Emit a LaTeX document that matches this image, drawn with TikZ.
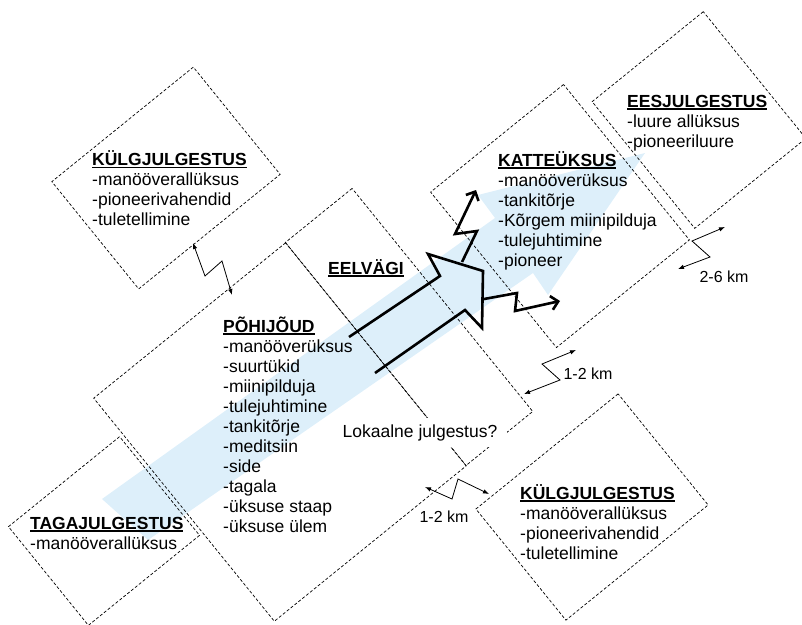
\documentclass[tikz,border=0pt]{standalone}
\usepackage{fontspec}
\setmainfont{Liberation Sans}
\usetikzlibrary{arrows.meta}
\definecolor{helesinine}{RGB}{221,239,250}
\newcommand{\pealkiri}[1]{\setbox0\hbox{\textbf{#1}}\rlap{\rule[-2.6pt]{\wd0}{1.4pt}}\box0}

\begin{document}
\begin{tikzpicture}[x=1pt,y=-1pt]
	% Stiilid
	\tikzstyle{kast}=[draw,densely dashed,line width=0.7pt,rectangle,inner sep=0pt,rotate=39]
	\tikzstyle{tekst}=[anchor=base west,align=left,inner sep=0pt,font=\fontsize{17.5}{20}\selectfont]
	\tikzstyle{vahemaa}=[{Latex[length=6pt,width=4.5pt]}-{Latex[length=6pt,width=4.5pt]},line width=0.8pt]
	\tikzstyle{suund}=[-{Straight Barb[length=7pt,width=14pt]},line width=2.6pt]
	\tikzstyle{km}=[inner sep=1pt,font=\fontsize{16}{18}\selectfont]
	% Reavahe (viimase rea alusjoon)
	\def\Rida{20}
	\useasboundingbox (0,0) rectangle (802,624);
	% Liikumise suund (taust)
	\fill[helesinine] (102,499) -- (495,218) -- (478,195) -- (645,153) -- (548,295) -- (533,273) -- (148,540) -- cycle;
	% Kastid
	\node[kast,minimum width=182pt,minimum height=138pt] (kylgA) at (166,178) {};
	\node[kast,minimum width=247pt,minimum height=287pt] (pohijoud) at (280,432) {};
	\node[kast,minimum width=86pt,minimum height=287pt] (eelvagi) at (409,327) {};
	\node[kast,minimum width=171pt,minimum height=200pt] (katte) at (560,216) {};
	\node[kast,minimum width=143pt,minimum height=163pt] (ees) at (699,120) {};
	\node[kast,minimum width=143pt,minimum height=127pt] (taga) at (104,531) {};
	\node[kast,minimum width=183pt,minimum height=143pt] (kylgB) at (592,507) {};
	% Tekstid
	\node[tekst] (kylgAtekst) at (92,{165.5+3*\Rida}) {\pealkiri{KÜLGJULGESTUS}\\-manööverallüksus\\-pioneerivahendid\\-tuletellimine};
	\node[tekst] (eestekst) at (627,{107+2*\Rida}) {\pealkiri{EESJULGESTUS}\\-luure allüksus\\-pioneeriluure};
	\node[tekst] (kattetekst) at (498,{166+5*\Rida}) {\pealkiri{KATTEÜKSUS}\\-manööverüksus\\-tankitõrje\\-Kõrgem miinipilduja\\-tulejuhtimine\\-pioneer};
	\node[tekst] (eelvagitekst) at (328,274) {\pealkiri{EELVÄGI}};
	\node[tekst] (pohijoudtekst) at (223,{332+10*\Rida}) {\pealkiri{PÕHIJÕUD}\\-manööverüksus\\-suurtükid\\-miinipilduja\\-tulejuhtimine\\-tankitõrje\\-meditsiin\\-side\\-tagala\\-üksuse staap\\-üksuse ülem};
	\node[tekst] (tagatekst) at (30,{529+1*\Rida}) {\pealkiri{TAGAJULGESTUS}\\-manööverallüksus};
	\node[tekst] (kylgBtekst) at (520,{499+3*\Rida}) {\pealkiri{KÜLGJULGESTUS}\\-manööverallüksus\\-pioneerivahendid\\-tuletellimine};
	% Pohijoudude nool
	\draw[line width=2.6pt] (349,337) -- (440,276) -- (428,254) -- (483,271) -- (482,328) -- (465,310) -- (375,373);
	\draw[suund] (462,262) -- (477,231) -- (455,234) -- (476,190);
	\draw[suund] (484,299) -- (517,293) -- (515,311) -- (560,301);
	% Vahemaad
	\coordinate (a1) at (193,243);
	\coordinate (a2) at (232,295);
	\coordinate (b1) at (576,350);
	\coordinate (b2) at (524,394);
	\coordinate (c1) at (425,487);
	\coordinate (c2) at (489,494);
	\coordinate (d1) at (725,227);
	\coordinate (d2) at (678,269);
	\draw[vahemaa] (a1) -- (205,276) -- (222,261) -- (a2);
	\draw[vahemaa] (b1) -- (542,364) -- (560,380) -- (b2);
	\draw[vahemaa] (c1) -- (452,499) -- (458,479) -- (c2);
	\draw[vahemaa] (d1) -- (692,241) -- (710,257) -- (d2);
	\node[km] (km1) at (588,374) {1-2 km};
	\node[km] (km2) at (444,517) {1-2 km};
	\node[km] (km3) at (724,277) {2-6 km};
	% Kusimus
	\node[fill=white,inner xsep=10pt,inner ysep=6pt,font=\fontsize{17.5}{20}\selectfont] (lokaalne) at (420,432.5) {Lokaalne julgestus?};
\end{tikzpicture}
\end{document}
